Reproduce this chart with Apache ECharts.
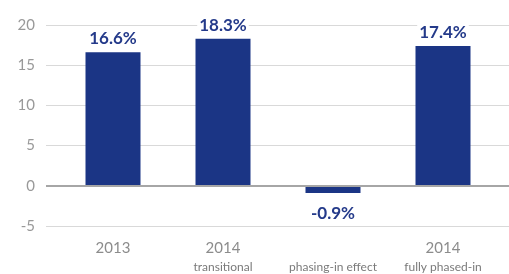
<!DOCTYPE html>
<html>
<head>
<meta charset="utf-8">
<style>
  html, body { margin: 0; padding: 0; background: #fff; }
  #chart { width: 509px; height: 274px; }
</style>
</head>
<body>
<div id="chart"></div>
<script src="https://cdn.jsdelivr.net/npm/echarts@6/dist/echarts.min.js"></script>
<script>
// 数据
var categories = ['2013|', '2014|transitional', '|phasing-in effect', '2014|fully phased-in'];
var values = [16.6, 18.3, -0.9, 17.4];
var yTicks = [-5, 0, 5, 10, 15, 20];

var labelFont = 'Lato';
var barColor = '#1b3585';

var chart = echarts.init(document.getElementById('chart'));

var options = {
  animation: false,
  grid: [
    // 背景网格线 + y轴文字
    { left: 46, right: 0, top: 25, bottom: 48 },
    // 柱子
    { left: 58, width: 440, top: 25, bottom: 48 }
  ],
  xAxis: [
    { gridIndex: 0, type: 'category', data: categories, show: false },
    {
      gridIndex: 1, type: 'category', data: categories,
      axisLine: { show: false }, axisTick: { show: false },
      axisLabel: {
        interval: 0,
        margin: 12,
        formatter: function (v) {
          var parts = v.split('|');
          return '{a|' + parts[0] + '}\n{b|' + parts[1] + '}';
        },
        rich: {
          a: { fontFamily: labelFont, fontSize: 15, color: '#8c8c8c', lineHeight: 20 },
          b: { fontFamily: labelFont, fontSize: 12, color: '#7a7a7a', lineHeight: 18 }
        }
      }
    }
  ],
  yAxis: [
    {
      gridIndex: 0, type: 'value', min: yTicks[0], max: yTicks[yTicks.length - 1], interval: 5,
      axisLine: { show: false }, axisTick: { show: false },
      axisLabel: { fontFamily: labelFont, fontSize: 15, color: '#999', margin: 11 },
      splitLine: { lineStyle: { color: '#d9d9d9', width: 1 } }
    },
    {
      gridIndex: 1, type: 'value', min: yTicks[0], max: yTicks[yTicks.length - 1], interval: 5, show: false
    }
  ],
  series: [
    {
      // 0 轴线
      type: 'line', xAxisIndex: 0, yAxisIndex: 0, data: [],
      markLine: {
        silent: true, symbol: 'none', label: { show: false },
        lineStyle: { color: '#a6a6a6', width: 2, type: 'solid' },
        data: [{ yAxis: 0 }]
      }
    },
    {
      type: 'bar', xAxisIndex: 1, yAxisIndex: 1,
      barWidth: 55,
      itemStyle: { color: barColor },
      label: {
        show: true,
        position: 'top',
        distance: 5,
        formatter: function (p) { return p.value.toFixed(1) + '%'; },
        fontFamily: labelFont, fontWeight: 'bold', fontSize: 17, color: '#243a8a',
        backgroundColor: '#fff', padding: [0, 2]
      },
      data: values.map(function (v) {
        if (v < 0) return { value: v, label: { position: 'bottom', distance: 12 } };
        return v;
      })
    }
  ]
};

chart.setOption(options);
</script>
</body>
</html>
